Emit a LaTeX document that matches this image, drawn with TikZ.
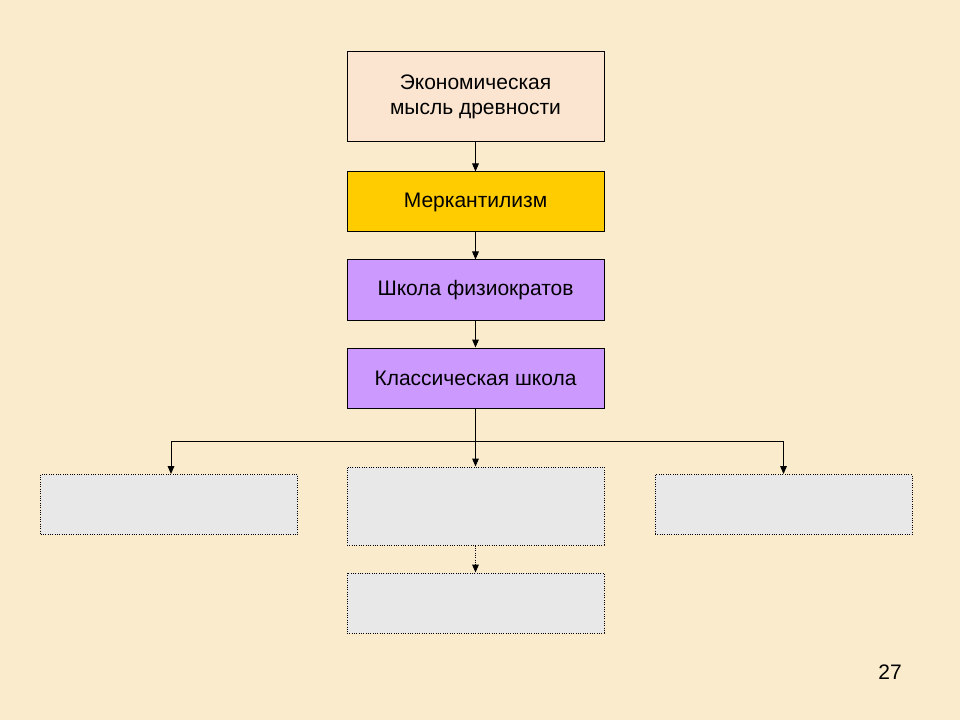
\documentclass[tikz,border=0pt]{standalone}
\usepackage{fontspec}
\setmainfont{Liberation Sans}
\usetikzlibrary{positioning, arrows.meta}

\definecolor{parchment}{HTML}{FAEBCC}
\definecolor{ancientfill}{HTML}{FBE5D0}
\definecolor{mercfill}{HTML}{FFCC00}
\definecolor{lilacfill}{HTML}{CC99FF}
\definecolor{emptyfill}{HTML}{E8E8E8}

\begin{document}
\begin{tikzpicture}[
    x=0.75pt, y=-0.75pt,
    >={Triangle[length=6pt, width=5pt]},
    line width=0.75pt,
    block/.style={draw, rectangle, minimum width=192.75pt, minimum height=45pt, align=center, font=\fontsize{15.75}{18.75}\selectfont},
    emptybox/.style={draw, densely dotted, rectangle, fill=emptyfill, minimum width=192.75pt, minimum height=45pt}
]

    % Slide background
    \fill[parchment] (0,0) rectangle (960,720);
    \useasboundingbox (0,0) rectangle (960,720);

    % Chain of schools
    \node[block, fill=ancientfill, minimum height=67.5pt] (ancient) at (475.5, 97) {Экономическая\\мысль древности};
    \node[block, fill=mercfill] (merc) at (475.5, 202) {Меркантилизм};
    \node[block, fill=lilacfill] (physio) at (475.5, 290) {Школа физиократов};
    \node[block, fill=lilacfill] (classic) at (475.5, 378) {Классическая школа};

    % Empty boxes below
    \node[emptybox] (leftbox) at (169, 504.5) {};
    \node[emptybox, minimum height=58.5pt] (midbox) at (475.5, 506) {};
    \node[emptybox] (rightbox) at (783.5, 504.5) {};
    \node[emptybox] (lowbox) at (475.5, 603) {};

    % Arrows down the chain
    \draw[->] (ancient.south) -- (merc.north);
    \draw[->] (merc.south) -- (physio.north);
    \draw[->] (physio.south) -- (classic.north);

    % Fork to the three boxes
    \coordinate (fork) at (475.5, 441);
    \draw (classic.south) -- (fork);
    \draw[->] (fork) -| ([xshift=1.5pt]leftbox.north);
    \draw[->] (fork) -| (rightbox.north);
    \draw[->] (fork) -- (midbox.north);
    \draw[->, densely dotted] (midbox.south) -- (lowbox.north);

    % Page number
    \node[font=\fontsize{15.75}{18.75}\selectfont] (pagenum) at (890, 672) {27};

\end{tikzpicture}
\end{document}
